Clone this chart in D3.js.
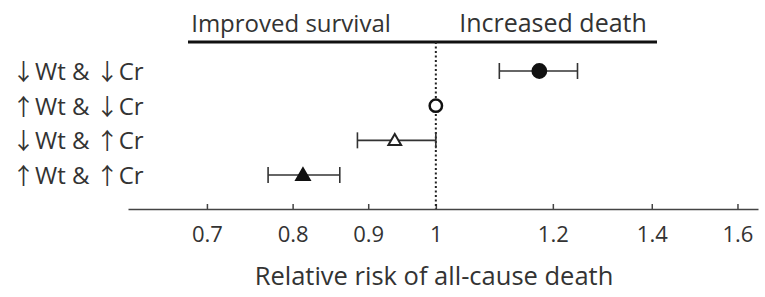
<!DOCTYPE html>
<html>
<head>
<meta charset="utf-8">
<script src="https://cdn.jsdelivr.net/npm/d3@7"></script>
<style>
  body { margin: 0; background: #fff; }
  text { font-family: "Open Sans", "DejaVu Sans", sans-serif; fill: #333; }
</style>
</head>
<body>
<svg id="chart" width="765" height="297"></svg>
<script>
// groups, top to bottom
const groups = ["↓Wt & ↓Cr", "↑Wt & ↓Cr", "↓Wt & ↑Cr", "↑Wt & ↑Cr"];
const rr    = [1.175, 1.0, 0.938, 0.813];
const lower = [1.104, null, 0.885, 0.770];
const upper = [1.247, null, 1.0, 0.861];
const markers = ["filledCircle", "openCircle", "openTriangle", "filledTriangle"];
const tickValues = [0.7, 0.8, 0.9, 1, 1.2, 1.4, 1.6];
const sideLabels = ["Improved survival", "Increased death"];

const svg = d3.select("#chart");

// log scale, 1.0 sits at x ~ 436
const x = d3.scaleLog().domain([0.619, 1.652]).range([128, 758]);
const y = d3.scalePoint().domain(groups).range([71, 175]);

const axisY = 209;

// x axis with short upward ticks
const axis = svg.append("g")
    .attr("transform", `translate(0,${axisY})`)
    .call(d3.axisBottom(x).tickValues(tickValues).tickFormat(d => String(d))
        .tickSizeInner(-5).tickSizeOuter(0).tickPadding(17));
axis.select(".domain").attr("stroke", "#444").attr("stroke-width", 1.5);
axis.selectAll(".tick line").attr("stroke", "#444").attr("stroke-width", 1.5);
axis.selectAll(".tick text")
    .attr("fill", "#333")
    .style("font-family", "'Open Sans', sans-serif")
    .style("font-size", "22px");

svg.append("text")
    .attr("x", 434).attr("y", 285)
    .attr("text-anchor", "middle")
    .style("font-size", "25.5px")
    .text("Relative risk of all-cause death");

// top banner
svg.append("line")
    .attr("x1", 188).attr("x2", 657)
    .attr("y1", 42).attr("y2", 42)
    .attr("stroke", "#111").attr("stroke-width", 3);
svg.append("text").attr("x", 291).attr("y", 32)
    .attr("text-anchor", "middle").style("font-size", "24px").text(sideLabels[0]);
svg.append("text").attr("x", 553).attr("y", 32)
    .attr("text-anchor", "middle").style("font-size", "25px").text(sideLabels[1]);

// reference line at RR = 1
svg.append("line")
    .attr("x1", x(1)).attr("x2", x(1))
    .attr("y1", 42).attr("y2", axisY)
    .attr("stroke", "#222").attr("stroke-width", 2)
    .attr("stroke-dasharray", "2,2.5");

// row labels, arrows set in a full-width face
const rowLabel = svg.selectAll(".rowlabel")
    .data(groups)
    .join("text")
    .attr("class", "rowlabel")
    .attr("x", 12)
    .attr("y", d => y(d) + 9)
    .style("font-size", "24px");
rowLabel.selectAll("tspan")
    .data(d => d.split(/([↑↓])/).filter(s => s.length))
    .join("tspan")
    .style("font-family", s => /[↑↓]/.test(s) ? "'Noto Sans CJK SC', sans-serif" : null)
    .style("font-size", s => /[↑↓]/.test(s) ? "23px" : null)
    .text(s => s);

const rows = groups.map((g, i) => ({ g, rr: rr[i], lo: lower[i], hi: upper[i], m: markers[i] }));

// confidence intervals
const ci = svg.append("g").selectAll("g")
    .data(rows.filter(d => d.lo != null))
    .join("g")
    .attr("stroke", "#333").attr("stroke-width", 1.6);
ci.append("line")
    .attr("x1", d => x(d.lo)).attr("x2", d => x(d.hi))
    .attr("y1", d => y(d.g)).attr("y2", d => y(d.g));
ci.append("line")
    .attr("x1", d => x(d.lo)).attr("x2", d => x(d.lo))
    .attr("y1", d => y(d.g) - 8).attr("y2", d => y(d.g) + 8);
ci.append("line")
    .attr("x1", d => x(d.hi)).attr("x2", d => x(d.hi))
    .attr("y1", d => y(d.g) - 8).attr("y2", d => y(d.g) + 8);

// point estimates
const sym = {
  filledCircle:   { type: d3.symbolCircle,   size: 150, fill: "#111", stroke: "#111" },
  openCircle:     { type: d3.symbolCircle,   size: 120, fill: "#fff", stroke: "#111" },
  openTriangle:   { type: d3.symbolTriangle, size: 70,  fill: "#fff", stroke: "#222" },
  filledTriangle: { type: d3.symbolTriangle, size: 80,  fill: "#111", stroke: "#111" }
};
svg.append("g").selectAll("path")
    .data(rows)
    .join("path")
    .attr("transform", d => `translate(${x(d.rr)},${y(d.g) + (d.m.includes("Triangle") ? 1 : 0)})`)
    .attr("d", d => d3.symbol().type(sym[d.m].type).size(sym[d.m].size)())
    .attr("fill", d => sym[d.m].fill)
    .attr("stroke", d => sym[d.m].stroke)
    .attr("stroke-width", d => d.m === "openCircle" ? 2.5 : 2);
</script>
</body>
</html>
